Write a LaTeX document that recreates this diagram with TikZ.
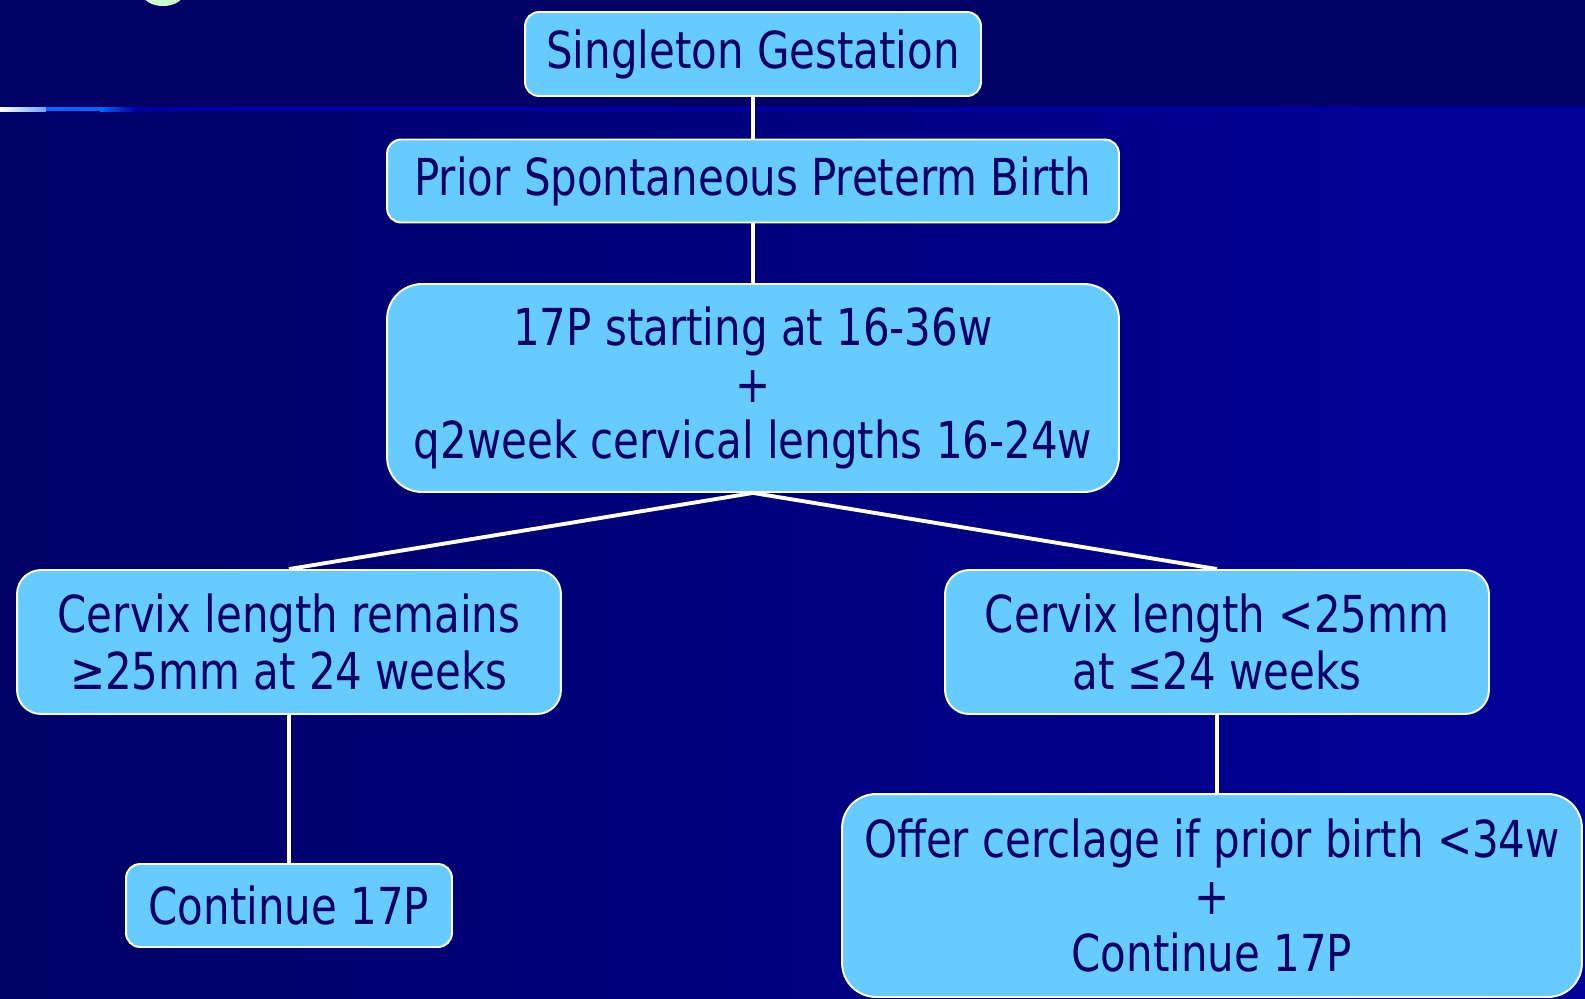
\documentclass[tikz,border=0pt]{standalone}
\usepackage{fontspec}
\setmainfont[FakeStretch=0.915]{DejaVu Sans Condensed}
\usetikzlibrary{positioning}

\definecolor{slidetop}{HTML}{000066}
\definecolor{slideright}{HTML}{000099}
\definecolor{boxfill}{HTML}{66CCFF}
\definecolor{boxtext}{HTML}{000066}
\definecolor{titlegreen}{HTML}{CCFFCC}
\definecolor{rulebright}{HTML}{0066FF}
\definecolor{ruledark}{HTML}{0000AA}

\begin{document}
\begin{tikzpicture}[x=0.02cm, y=-0.02cm,
  flowbox/.style={draw=white, line width=1.1pt, fill=boxfill, text=boxtext,
    align=center, inner sep=0pt, font=\fontsize{29}{32.4}\selectfont},
  link/.style={draw=white, line width=2.2pt}]

% Slide background
\useasboundingbox (0,0) rectangle (1585,998);
\clip (0,0) rectangle (1585,998);
\fill[slidetop] (0,0) rectangle (1585,108);
\shade[left color=slidetop, right color=slideright] (0,108) rectangle (1585,998);

% Title rule
\shade[left color=white, right color=rulebright!60!white] (0,107) rectangle (46,111);
\fill[rulebright] (46,107) rectangle (100,111);
\shade[left color=rulebright, right color=ruledark] (100,107) rectangle (135,111);
\fill[ruledark] (135,107) rectangle (1585,111);

% Cut-off title glyph
\fill[titlegreen] (163,-6) ellipse [x radius=20, y radius=12];

% Boxes
\node[flowbox, minimum width=9.12cm, minimum height=1.68cm, rounded corners=0.28cm]
  (sing) at (753,54) {Singleton Gestation};
\node[flowbox, minimum width=14.64cm, minimum height=1.66cm, rounded corners=0.28cm]
  (prior) at (753,181) {Prior Spontaneous Preterm Birth};
\node[flowbox, minimum width=14.64cm, minimum height=4.16cm, rounded corners=0.7cm]
  (plan) at (753,388) {17P starting at 16-36w\\+\\q2week cervical lengths 16-24w};
\node[flowbox, minimum width=10.88cm, minimum height=2.88cm, rounded corners=0.48cm]
  (longcx) at (289,642) {Cervix length remains\\≥25mm at 24 weeks};
\node[flowbox, minimum width=10.88cm, minimum height=2.88cm, rounded corners=0.48cm]
  (shortcx) at (1217,642) {Cervix length <25mm\\at ≤24 weeks};
\node[flowbox, minimum width=6.52cm, minimum height=1.66cm, rounded corners=0.28cm]
  (cont) at (289,905.5) {Continue 17P};
\node[flowbox, minimum width=14.8cm, minimum height=4.06cm, rounded corners=0.68cm]
  (cerclage) at (1212,895.5) {Offer cerclage if prior birth <34w\\+\\Continue 17P};

% Connectors
\draw[link] (sing.south) -- (prior.north);
\draw[link] (prior.south) -- (plan.north);
\draw[link] (plan.south) -- (longcx.north);
\draw[link] (plan.south) -- (shortcx.north);
\draw[link] (longcx.south) -- (cont.north);
\draw[link] (shortcx.south) -- (shortcx.south |- cerclage.north);

\end{tikzpicture}
\end{document}
